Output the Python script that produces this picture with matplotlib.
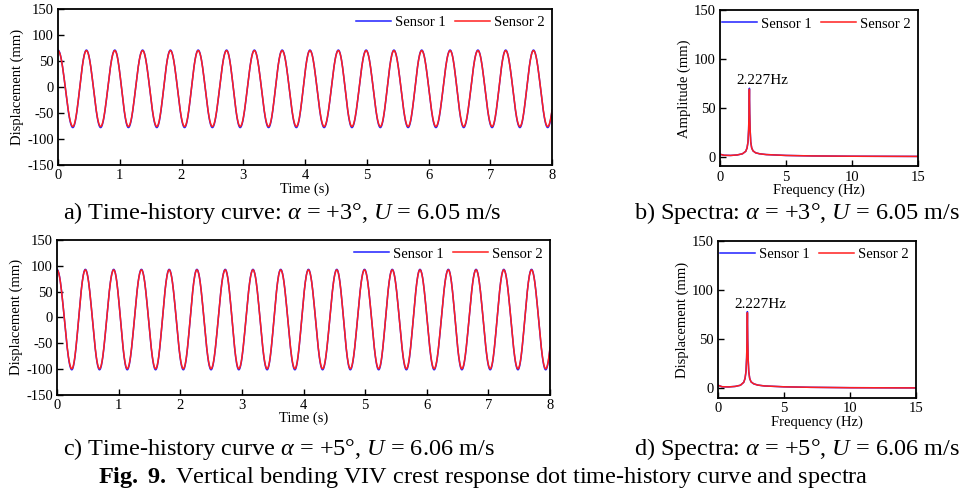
import numpy as np
import matplotlib
matplotlib.use("Agg")
import matplotlib.pyplot as plt

plt.rcParams["font.family"] = ["Liberation Serif", "DejaVu Serif"]
plt.rcParams["mathtext.fontset"] = "custom"
plt.rcParams["mathtext.rm"] = "Liberation Serif"
plt.rcParams["mathtext.it"] = "Liberation Serif:italic"
plt.rcParams["mathtext.bf"] = "Liberation Serif:bold"
plt.rcParams["axes.unicode_minus"] = False

# time-history extrema (s, mm)
peak_t = [0.0, 0.46, 0.92, 1.37, 1.82, 2.27, 2.73, 3.18, 3.63, 4.08, 4.54, 4.99,
          5.44, 5.89, 6.35, 6.80, 7.25, 7.70, 8.16]
trough_t = [0.24, 0.69, 1.14, 1.60, 2.05, 2.50, 2.95, 3.41, 3.86, 4.31, 4.76, 5.22,
            5.67, 6.12, 6.57, 7.03, 7.48, 7.93]

a_peak_s1, a_trough_s1 = 71, -78
a_peak_s2, a_trough_s2 = 70, -76
c_peak_s1, c_trough_s1 = 93, -102
c_peak_s2, c_trough_s2 = 92, -100

# spectra (Hz, mm)
freq = [0, 0.3, 0.8, 1.3, 1.7, 1.95, 2.05, 2.12, 2.17, 2.2, 2.227, 2.25, 2.28,
        2.33, 2.4, 2.5, 2.7, 3.0, 3.5, 5, 7, 10, 15]
b_amp_s2 = [2.5, 1.5, 1.3, 1.8, 3.0, 5.5, 9, 15, 28, 45, 69, 45, 28, 15, 9, 6,
            4, 3, 2.2, 1.3, 0.8, 0.5, 0.3]
b_peak_s1 = 70
d_amp_s2 = [3.0, 1.5, 1.3, 1.8, 3.0, 6.0, 10, 17, 31, 50, 77, 50, 31, 17, 10, 6.5,
            4.5, 3.2, 2.3, 1.4, 0.9, 0.5, 0.3]
d_peak_s1 = 78
peak_freq = 2.227

blue = "#1f1fff"
red = "#ff1f1f"


def half_cosine_curve(peak_v, trough_v):
    ext_t = sorted(peak_t + trough_t)
    ext_v = [peak_v if t in peak_t else trough_v for t in ext_t]
    ts, ys = [], []
    for i in range(len(ext_t) - 1):
        t0, t1 = ext_t[i], ext_t[i + 1]
        v0, v1 = ext_v[i], ext_v[i + 1]
        s = np.linspace(0, 1, 40)
        ts.append(t0 + (t1 - t0) * s)
        ys.append((v0 + v1) / 2 + (v0 - v1) / 2 * np.cos(np.pi * s))
    return np.concatenate(ts), np.concatenate(ys)


W, H = 973, 494
fig = plt.figure(figsize=(W / 100, H / 100), dpi=100)


def px_axes(l, r, t, b):
    return fig.add_axes([l / W, 1 - b / H, (r - l) / W, (b - t) / H])


def style(ax):
    ax.tick_params(direction="in", length=4, width=1, labelsize=10.5,
                   top=False, right=False, pad=3)
    for sp in ax.spines.values():
        sp.set_linewidth(1.3)
    ax.legend(loc="upper right", frameon=False, ncol=2, fontsize=10.5,
              handlelength=2.4, handletextpad=0.3, columnspacing=0.6,
              borderaxespad=0.3, borderpad=0.2)


def time_panel(ax, p1, t1, p2, t2):
    x1, y1 = half_cosine_curve(p1, t1)
    x2, y2 = half_cosine_curve(p2, t2)
    ax.plot(x1, y1, color=blue, lw=1.1, label="Sensor 1")
    ax.plot(x2, y2, color=red, lw=1.1, label="Sensor 2")
    ax.set_xlim(0, 8)
    ax.set_ylim(-150, 150)
    ax.set_xticks(range(0, 9))
    ax.set_yticks([-150, -100, -50, 0, 50, 100, 150])
    ax.set_xlabel("Time (s)", fontsize=10.5, labelpad=0)
    ax.set_ylabel("Displacement (mm)", fontsize=10.5, labelpad=2)
    style(ax)


def spec_panel(ax, amp2, peak1, ylabel):
    amp1 = list(amp2)
    amp1[freq.index(peak_freq)] = peak1
    ax.plot(freq, amp1, color=blue, lw=1.1, label="Sensor 1")
    ax.plot(freq, amp2, color=red, lw=1.1, label="Sensor 2")
    ax.text(peak_freq + 0.95, max(amp1) + 4, f"{peak_freq}Hz", fontsize=11,
            ha="center", va="baseline")
    ax.set_xlim(0, 15)
    ax.set_ylim(-10, 150)
    ax.set_xticks([0, 5, 10, 15])
    ax.set_yticks([0, 50, 100, 150])
    ax.set_xlabel("Frequency (Hz)", fontsize=10.5, labelpad=0)
    ax.set_ylabel(ylabel, fontsize=10.5, labelpad=2)
    style(ax)


ax_a = px_axes(58, 552, 9, 165)
time_panel(ax_a, a_peak_s1, a_trough_s1, a_peak_s2, a_trough_s2)
ax_b = px_axes(720, 918, 10, 166.5)
spec_panel(ax_b, b_amp_s2, b_peak_s1, "Amplitude (mm)")
ax_c = px_axes(57, 550, 240, 394.5)
time_panel(ax_c, c_peak_s1, c_trough_s1, c_peak_s2, c_trough_s2)
ax_d = px_axes(718, 916, 241, 398)
spec_panel(ax_d, d_amp_s2, d_peak_s1, "Displacement (mm)")

cap = dict(fontsize=17.5, ha="center", va="center")
fig.text(282 / W, 1 - 213 / H, r"a) Time-history curve: $\alpha$ = +3°, $U$ = 6.05 m/s", **cap)
fig.text(797 / W, 1 - 213 / H, r"b) Spectra: $\alpha$ = +3°, $U$ = 6.05 m/s", **cap)
fig.text(279 / W, 1 - 449 / H, r"c) Time-history curve $\alpha$ = +5°, $U$ = 6.06 m/s", **cap)
fig.text(797 / W, 1 - 449 / H, r"d) Spectra: $\alpha$ = +5°, $U$ = 6.06 m/s", **cap)
fig.text(483 / W, 1 - 477 / H,
         r"$\mathbf{Fig.}$ $\mathbf{9.}$ Vertical bending VIV crest response dot time-history curve and spectra",
         **cap)

fig.savefig("out.png", dpi=100)
